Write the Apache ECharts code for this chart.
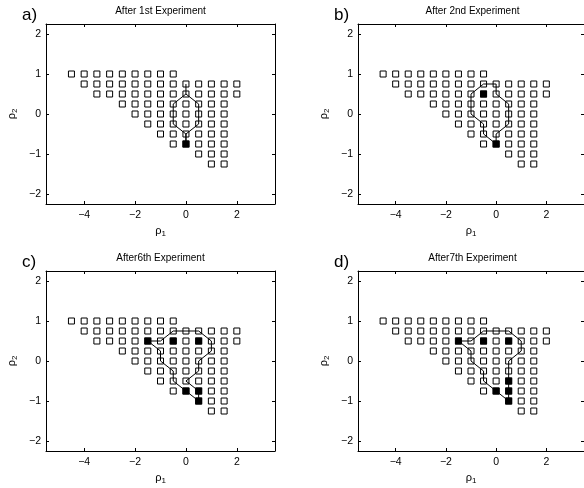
<!DOCTYPE html>
<html>
<head>
<meta charset="utf-8">
<script src="https://cdn.jsdelivr.net/npm/echarts@6/dist/echarts.min.js"></script>
<style>
  html, body { margin: 0; padding: 0; background: #fff; }
  #chart { width: 584px; height: 488px; }
</style>
</head>
<body>
<div id="chart"></div>
<script>
// tick labels
const xTicks = [-4, -2, 0, 2]
const yTicks = [-2, -1, 0, 1, 2]

const titles = ['After 1st Experiment', 'After 2nd Experiment', 'After6th Experiment', 'After7th Experiment']
const panelTags = ['a)', 'b)', 'c)', 'd)']

// candidate grid, one row per rho2 value: [rho2, rho1 values]
const candidateRows = [
  [1, [-4.5, -4, -3.5, -3, -2.5, -2, -1.5, -1, -0.5]],
  [0.75, [-4, -3.5, -3, -2.5, -2, -1.5, -1, -0.5, 0, 0.5, 1, 1.5, 2]],
  [0.5, [-3.5, -3, -2.5, -2, -1.5, -1, -0.5, 0, 0.5, 1, 1.5, 2]],
  [0.25, [-2.5, -2, -1.5, -1, -0.5, 0, 0.5, 1, 1.5]],
  [0, [-2, -1.5, -1, -0.5, 0, 0.5, 1, 1.5]],
  [-0.25, [-1.5, -1, -0.5, 0, 0.5, 1, 1.5]],
  [-0.5, [-1, -0.5, 0, 0.5, 1, 1.5]],
  [-0.75, [-0.5, 0, 0.5, 1, 1.5]],
  [-1, [0.5, 1, 1.5]],
  [-1.25, [1, 1.5]]
]

// experiments done so far (filled squares)
const filledA = [[0, -0.75]]
const filledB = [[-0.5, 0.5], [0, -0.75]]
const filledC = [[-1.5, 0.5], [-0.5, 0.5], [0.5, 0.5], [0, -0.75], [0.5, -0.75], [0.5, -1]]
const filledD = [[-1.5, 0.5], [-0.5, 0.5], [0.5, 0.5], [0.5, -0.5], [0, -0.75], [0.5, -0.75], [0.5, -1]]

// outlines
const outlineA = [[0, 0.75], [0, 0.5], [0.5, 0.25], [0.5, -0.25], [0, -0.5], [0, -0.75], [0, -0.5],
  [-0.5, -0.25], [-0.5, 0.25], [0, 0.5]]
const outlineB = [[-0.5, 0.75], [0, 0.75], [0, 0.5], [0.5, 0.25], [0.5, -0.25], [0, -0.5], [0, -0.75],
  [-0.5, -0.5], [-0.5, -0.25], [-1, 0], [-1, 0.5], [-0.5, 0.75]]
const outlineC = [[-1.5, 0.5], [-1, 0.5], [-0.5, 0.75], [0.5, 0.75], [1, 0.5], [1, 0.25], [0.5, 0],
  [0.5, -0.25], [0, -0.5], [0.5, -0.75], [0.5, -1], [0, -0.75], [-0.5, -0.5], [-0.5, -0.25],
  [-1, 0], [-1, 0.25], [-1.5, 0.5]]
const outlineD = [[-1.5, 0.5], [-1, 0.5], [-0.5, 0.75], [0.5, 0.75], [1, 0.5], [1, 0.25], [0.5, 0],
  [0.5, -1], [0, -0.75], [-0.5, -0.5], [-0.5, -0.25], [-1, 0], [-1, 0.25], [-1.5, 0.5]]

const filled = [filledA, filledB, filledC, filledD]
const outlines = [outlineA, outlineB, outlineC, outlineD]

const font = 'Liberation Sans, Arial, Helvetica, sans-serif'
const panels = [
  { left: 46, top: 24 },
  { left: 358, top: 24 },
  { left: 46, top: 271 },
  { left: 358, top: 271 }
]
const plotW = 229
const plotH = 180

const candidates = []
candidateRows.forEach(function (row) {
  row[1].forEach(function (x) { candidates.push([x, row[0]]) })
})

const minus = function (v) { return String(v).replace('-', '\u2212') }
const axLine = { show: true, onZero: false, lineStyle: { color: '#000', width: 1 } }
const rhoRich = {
  r: { fontSize: 11, fontFamily: font, color: '#000', lineHeight: 14 },
  s: { fontSize: 8, fontFamily: font, color: '#000', lineHeight: 14, verticalAlign: 'bottom', padding: [7, 0, 0, 0] }
}

const grid = [], xAxis = [], yAxis = [], series = [], graphic = []

panels.forEach(function (p, i) {
  grid.push({ left: p.left, top: p.top, width: plotW, height: plotH })
  const tick = function (vals) { return { show: true, inside: true, length: 3, customValues: vals, lineStyle: { color: '#000' } } }
  xAxis.push({
    gridIndex: i, type: 'value', min: -5.5, max: 3.5, position: 'bottom',
    axisLine: axLine, axisTick: tick(xTicks), splitLine: { show: false },
    axisLabel: { customValues: xTicks, formatter: minus, margin: 6, color: '#000', fontSize: 10.5, fontFamily: font },
    name: '{r|\u03c1}{s|1}', nameLocation: 'middle', nameGap: 20,
    nameTextStyle: { rich: rhoRich }
  })
  xAxis.push({
    gridIndex: i, type: 'value', min: -5.5, max: 3.5, position: 'top',
    axisLine: axLine, axisTick: tick(xTicks), axisLabel: { show: false }, splitLine: { show: false }
  })
  yAxis.push({
    gridIndex: i, type: 'value', min: -2.25, max: 2.25, position: 'left',
    axisLine: axLine, axisTick: tick(yTicks), splitLine: { show: false },
    axisLabel: { customValues: yTicks, formatter: minus, margin: 5, color: '#000', fontSize: 10.5, fontFamily: font },
    name: '{r|\u03c1}{s|2}', nameLocation: 'middle', nameGap: 27, nameRotate: 90,
    nameTextStyle: { rich: rhoRich }
  })
  yAxis.push({
    gridIndex: i, type: 'value', min: -2.25, max: 2.25, position: 'right',
    axisLine: axLine, axisTick: tick(yTicks), axisLabel: { show: false }, splitLine: { show: false }
  })

  series.push({
    type: 'scatter', xAxisIndex: 2 * i, yAxisIndex: 2 * i, data: candidates,
    symbol: 'rect', symbolSize: 6, silent: true,
    itemStyle: { color: '#fff', borderColor: '#000', borderWidth: 1, opacity: 1 }, z: 2
  })
  series.push({
    type: 'line', xAxisIndex: 2 * i, yAxisIndex: 2 * i, data: outlines[i],
    showSymbol: false, symbol: 'none', silent: true,
    lineStyle: { color: '#000', width: 1 }, z: 3
  })
  series.push({
    type: 'scatter', xAxisIndex: 2 * i, yAxisIndex: 2 * i, data: filled[i],
    symbol: 'rect', symbolSize: 7, silent: true,
    itemStyle: { color: '#000', borderWidth: 0, opacity: 1 }, z: 4
  })

  graphic.push({
    type: 'text', x: p.left + plotW / 2, y: p.top - 13,
    style: { text: titles[i], fill: '#000', font: '10px ' + font, textAlign: 'center', textVerticalAlign: 'middle' }
  })
  graphic.push({
    type: 'text', x: p.left - 24, y: p.top - 9,
    style: { text: panelTags[i], fill: '#000', font: '17px ' + font, textAlign: 'left', textVerticalAlign: 'middle' }
  })
})

const chart = echarts.init(document.getElementById('chart'))
chart.setOption({
  animation: false,
  backgroundColor: '#fff',
  grid: grid,
  xAxis: xAxis,
  yAxis: yAxis,
  series: series,
  graphic: graphic
})
</script>
</body>
</html>
